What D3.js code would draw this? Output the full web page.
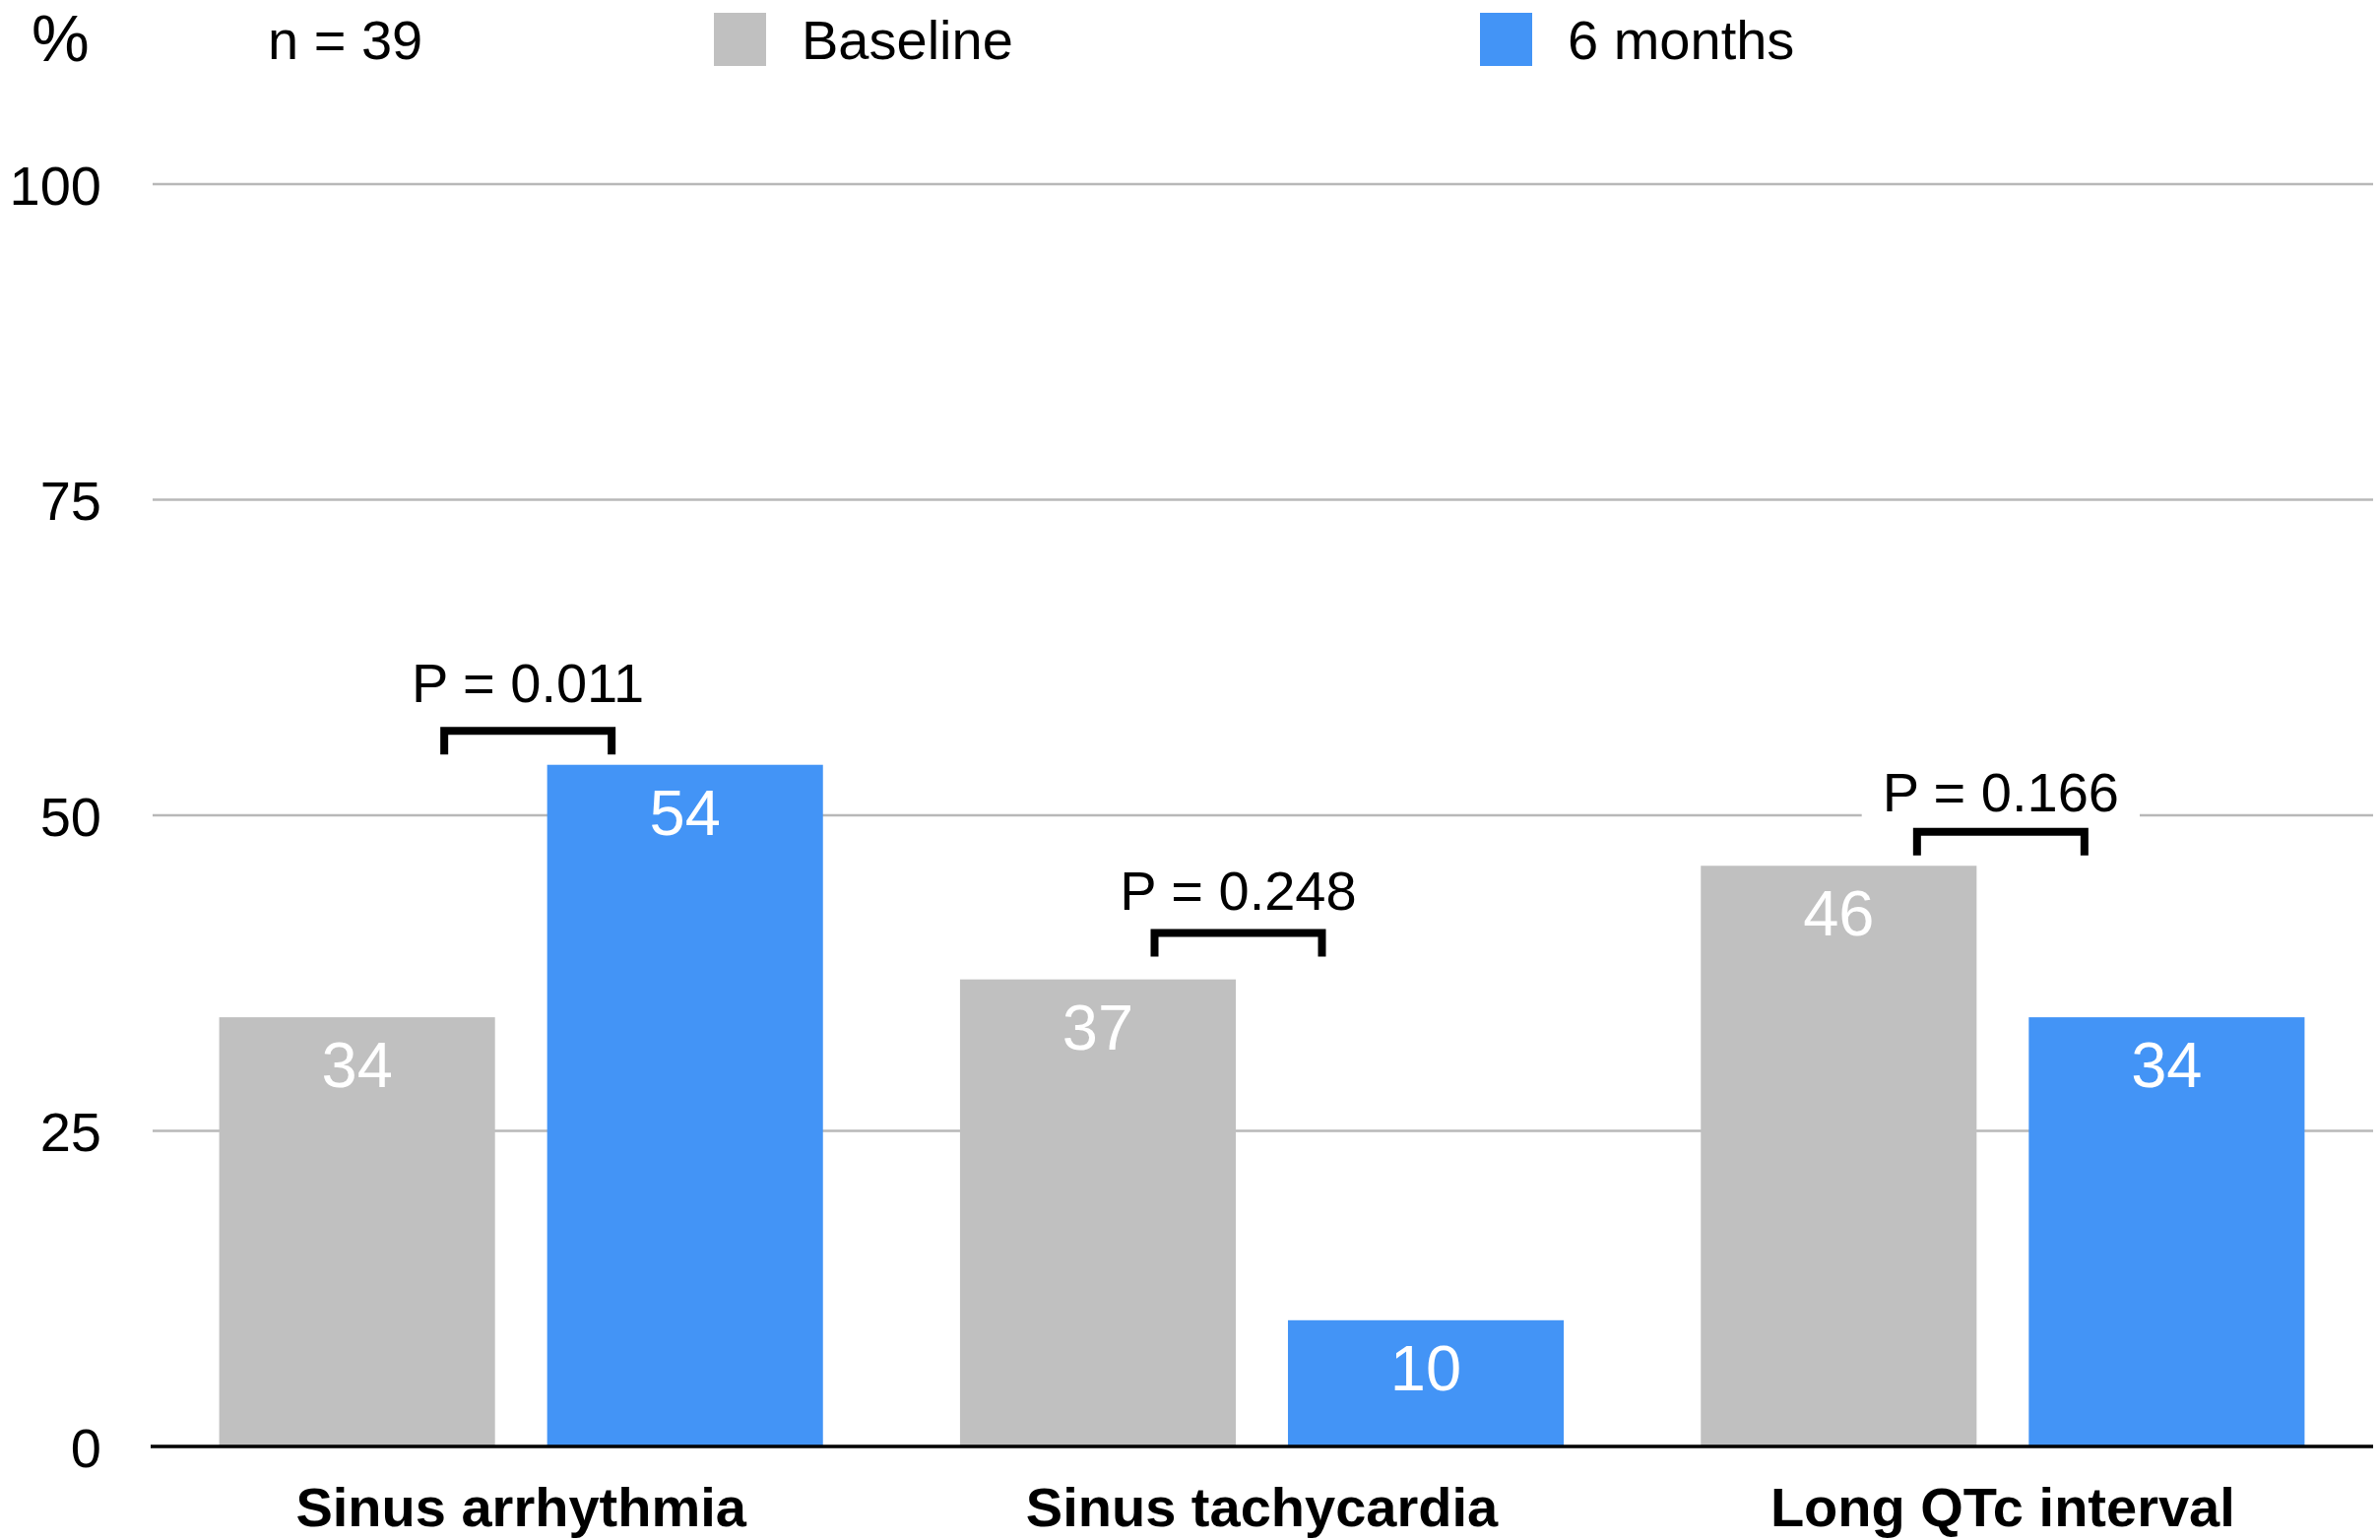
<!DOCTYPE html>
<html>
<head>
<meta charset="utf-8">
<script src="https://cdn.jsdelivr.net/npm/d3@7"></script>
<style>
  html, body { margin: 0; padding: 0; background: #fff; }
  svg { display: block; font-family: "Liberation Sans", Arial, Helvetica, sans-serif; }
</style>
</head>
<body>
<div id="chart"></div>
<script>
// ---- data ----
const CATEGORIES = ["Sinus arrhythmia", "Sinus tachycardia", "Long QTc interval"];
const SERIES = ["Baseline", "6 months"];
const BASELINE = [34, 37, 46];
const SIX_MONTHS = [54, 10, 34];
const P_VALUES = ["P = 0.011", "P = 0.248", "P = 0.166"];
const P_LEVELS = [57, 41, 49];          // bracket height, in % units
const Y_TICKS = [0, 25, 50, 75, 100];
const N_LABEL = "n = 39";

// ---- setup ----
const W = 2417, H = 1564;
const plot = { left: 153, right: 2410, top: 187, bottom: 1469 };
const COLORS = ["#c0c0c0", "#4394f6"];

const svg = d3.select("#chart").append("svg")
  .attr("width", W).attr("height", H);

const x0 = d3.scaleBand()
  .domain(CATEGORIES)
  .range([plot.left, plot.right])
  .paddingInner(0.185)
  .paddingOuter(0.0925);

const x1 = d3.scaleBand()
  .domain(SERIES)
  .range([0, x0.bandwidth()])
  .paddingInner(0.159);

const y = d3.scaleLinear().domain([0, 100]).range([plot.bottom, plot.top]);
const color = d3.scaleOrdinal().domain(SERIES).range(COLORS);

const rows = CATEGORIES.map((c, i) => ({
  cat: c,
  values: [
    { key: SERIES[0], value: BASELINE[i] },
    { key: SERIES[1], value: SIX_MONTHS[i] }
  ]
}));

// gridlines
svg.append("g")
  .selectAll("line")
  .data(Y_TICKS.filter(t => t > 0))
  .join("line")
  .attr("x1", plot.left + 2).attr("x2", plot.right)
  .attr("y1", d => y(d)).attr("y2", d => y(d))
  .attr("stroke", "#b8b8b8")
  .attr("stroke-width", 2.5);

// y axis labels
const yAxis = svg.append("g")
  .attr("transform", `translate(${plot.left},0)`)
  .call(d3.axisLeft(y).tickValues(Y_TICKS).tickSize(0).tickPadding(50));
yAxis.select(".domain").remove();
yAxis.selectAll("text")
  .attr("font-family", "Liberation Sans, Arial, sans-serif")
  .attr("font-size", 56)
  .attr("dy", "0.36em")
  .attr("fill", "#000");

// bars
const groups = svg.append("g")
  .selectAll("g")
  .data(rows)
  .join("g")
  .attr("transform", d => `translate(${x0(d.cat)},0)`);

groups.selectAll("rect")
  .data(d => d.values)
  .join("rect")
  .attr("x", d => x1(d.key))
  .attr("y", d => y(d.value))
  .attr("width", x1.bandwidth())
  .attr("height", d => y(0) - y(d.value))
  .attr("fill", d => color(d.key));

groups.selectAll("text.val")
  .data(d => d.values)
  .join("text")
  .attr("class", "val")
  .attr("x", d => x1(d.key) + x1.bandwidth() / 2)
  .attr("y", d => y(d.value) + 71)
  .attr("text-anchor", "middle")
  .attr("font-size", 65)
  .attr("fill", "#fff")
  .text(d => d.value);

// x axis line
svg.append("line")
  .attr("x1", plot.left).attr("x2", plot.right)
  .attr("y1", y(0)).attr("y2", y(0))
  .attr("stroke", "#000")
  .attr("stroke-width", 3.5);

// category labels
svg.append("g")
  .selectAll("text")
  .data(CATEGORIES)
  .join("text")
  .attr("x", d => x0(d) + x0.bandwidth() / 2)
  .attr("y", 1550)
  .attr("text-anchor", "middle")
  .attr("font-size", 56)
  .attr("font-weight", 700)
  .text(d => d);

// p-value brackets
const shift = [7, -24, -2];
const textGap = [25, 19, 17];
const bw = 178, leg = 28, sw = 8;
const ann = svg.append("g");
CATEGORIES.forEach((c, i) => {
  const cx = x0(c) + x0.bandwidth() / 2 + shift[i];
  const yt = y(P_LEVELS[i]);
  ann.append("path")
    .attr("d", `M${cx - bw / 2 + sw / 2},${yt + leg} V${yt + sw / 2} H${cx + bw / 2 - sw / 2} V${yt + leg}`)
    .attr("fill", "none")
    .attr("stroke", "#000")
    .attr("stroke-width", sw)
    .attr("stroke-linejoin", "miter");

  const g = ann.append("g");
  const t = g.append("text")
    .attr("x", cx)
    .attr("y", yt - textGap[i])
    .attr("text-anchor", "middle")
    .attr("font-size", 56)
    .text(P_VALUES[i]);
  const bb = t.node().getBBox();
  g.insert("rect", "text")
    .attr("x", bb.x - 21).attr("y", bb.y)
    .attr("width", bb.width + 42).attr("height", bb.height)
    .attr("fill", "#fff");
});

// header: unit, n, legend
svg.append("text")
  .attr("x", 32).attr("y", 62)
  .attr("font-size", 66)
  .text("%");

svg.append("text")
  .attr("x", 272).attr("y", 60)
  .attr("font-size", 56)
  .text(N_LABEL);

const legendX = [725, 1503];
const legend = svg.append("g")
  .selectAll("g")
  .data(SERIES)
  .join("g")
  .attr("transform", (d, i) => `translate(${legendX[i]},13)`);

legend.append("rect")
  .attr("width", 53).attr("height", 54)
  .attr("fill", d => color(d));

legend.append("text")
  .attr("x", 89).attr("y", 47)
  .attr("font-size", 56)
  .text(d => d);
</script>
</body>
</html>
